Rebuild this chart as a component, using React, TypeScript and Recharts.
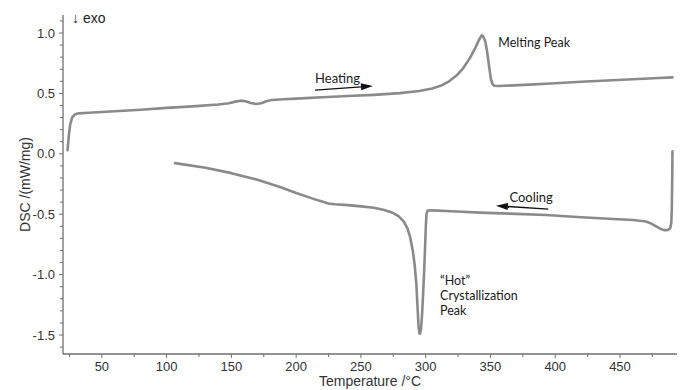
import React from 'react';
import { LineChart, Line, XAxis, YAxis, ReferenceLine, ReferenceDot, Label } from 'recharts';

// Heating run (temperature rising)
const heatingTemp = [
  23.5, 24.5, 25.5, 27, 29, 32, 40, 60, 80, 100, 120, 140, 148, 153, 157, 161, 165, 169, 173, 177, 181,
  190, 200, 220, 240, 260, 280, 295, 305, 312, 318, 324, 329, 334, 338, 341, 343.2, 344.5, 346, 347.5,
  349, 350.3, 351.5, 353, 356, 380, 400, 420, 440, 460, 480, 490.5,
];
const heatingDsc = [
  0.03, 0.15, 0.24, 0.3, 0.325, 0.335, 0.34, 0.352, 0.365, 0.38, 0.393, 0.408, 0.418, 0.432, 0.44, 0.435,
  0.42, 0.413, 0.418, 0.435, 0.445, 0.452, 0.457, 0.468, 0.478, 0.488, 0.502, 0.52, 0.54, 0.565, 0.6, 0.65,
  0.71, 0.79, 0.87, 0.94, 0.98, 0.97, 0.93, 0.84, 0.72, 0.62, 0.578, 0.563, 0.561, 0.573, 0.584, 0.596,
  0.607, 0.617, 0.627, 0.633,
];

// Cooling run (temperature falling, drawn in measurement order)
const coolingTemp = [
  490.5, 490.3, 490, 489.6, 488.8, 487, 484.5, 482, 478, 474, 470, 460, 445, 420, 393, 370, 342, 320, 305,
  301.5, 300.6, 300.1, 299.5, 298.8, 298, 297.2, 296.4, 295.6, 295.1, 294.5, 293.7, 292.8, 291.5, 290,
  288, 286, 283, 279, 275, 268, 260, 250, 240, 230, 225, 220, 214, 200, 187.6, 170, 150, 130, 106.5,
];
const coolingDsc = [
  0.02, -0.2, -0.45, -0.57, -0.615, -0.63, -0.632, -0.625, -0.6, -0.577, -0.56, -0.548, -0.54, -0.525,
  -0.507, -0.497, -0.487, -0.476, -0.468, -0.469, -0.5, -0.6, -0.78, -0.97, -1.16, -1.33, -1.45, -1.49,
  -1.485, -1.43, -1.27, -1.08, -0.92, -0.8, -0.69, -0.62, -0.56, -0.515, -0.49, -0.465, -0.447, -0.435,
  -0.425, -0.418, -0.412, -0.395, -0.375, -0.325, -0.275, -0.215, -0.16, -0.115, -0.077,
];

// Axis ticks
const xMajorTicks = [50, 100, 150, 200, 250, 300, 350, 400, 450];
const xAllTicks = [25, 50, 75, 100, 125, 150, 175, 200, 225, 250, 275, 300, 325, 350, 375, 400, 425, 450, 475];
const yMajorTicks = [-1.5, -1.0, -0.5, 0.0, 0.5, 1.0];
const yAllTicks = [
  -1.6, -1.5, -1.4, -1.3, -1.2, -1.1, -1.0, -0.9, -0.8, -0.7, -0.6, -0.5, -0.4, -0.3, -0.2, -0.1, 0.0,
  0.1, 0.2, 0.3, 0.4, 0.5, 0.6, 0.7, 0.8, 0.9, 1.0, 1.1,
];

const heatingRows = heatingTemp.map((t, i) => ({ t, dsc: heatingDsc[i] }));
const coolingRows = coolingTemp.map((t, i) => ({ t, dsc: coolingDsc[i] }));

const AXIS_COLOR = '#6f6f6f';
const TICK_TEXT = '#333333';
const CURVE_COLOR = '#8a8a8a';
const SANS = '"Liberation Sans", Arial, sans-serif';
const NOTE_FONT = 'Lato, "Open Sans", sans-serif';

const isMajor = (v: number, majors: number[]) => majors.some((m) => Math.abs(m - v) < 1e-6);

const XTick = (props: any) => {
  const { x, y, payload } = props;
  const major = isMajor(payload.value, xMajorTicks);
  return (
    <g>
      <line x1={x} x2={x} y1={y} y2={y + (major ? 4 : 3)} stroke={AXIS_COLOR} strokeWidth={1} />
      {major && (
        <text x={x} y={y + 17} textAnchor="middle" fontSize={13} fill={TICK_TEXT} fontFamily={SANS}>
          {payload.value}
        </text>
      )}
    </g>
  );
};

const YTick = (props: any) => {
  const { x, y, payload } = props;
  const major = isMajor(payload.value, yMajorTicks);
  return (
    <g>
      <line x1={x - (major ? 4 : 3)} x2={x} y1={y} y2={y} stroke={AXIS_COLOR} strokeWidth={1} />
      {major && (
        <text x={x - 8} y={y} dy="0.36em" textAnchor="end" fontSize={13} fill={TICK_TEXT} fontFamily={SANS}>
          {Number(payload.value).toFixed(1)}
        </text>
      )}
    </g>
  );
};

// Arrow drawn along a reference segment, head at the second point
const arrowShape = (props: any) => {
  const { x1, y1, x2, y2 } = props;
  const dx = x2 - x1;
  const dy = y2 - y1;
  const len = Math.sqrt(dx * dx + dy * dy) || 1;
  const ux = dx / len;
  const uy = dy / len;
  const head = 12;
  const half = 3.5;
  const bx = x2 - ux * head;
  const by = y2 - uy * head;
  const pts = `${x2},${y2} ${bx - uy * half},${by + ux * half} ${bx + uy * half},${by - ux * half}`;
  return (
    <g>
      <line x1={x1} y1={y1} x2={bx} y2={by} stroke="#111" strokeWidth={1.3} />
      <polygon points={pts} fill="#111" />
    </g>
  );
};

const noteShape = (lines: string[], size: number) => (props: any) => {
  const { cx, cy } = props;
  return (
    <text x={cx} y={cy} fontSize={size} fill="#1a1a1a" fontFamily={NOTE_FONT}>
      {lines.map((s, i) => (
        <tspan key={i} x={cx} dy={i === 0 ? '0.35em' : 15}>
          {s}
        </tspan>
      ))}
    </text>
  );
};

const exoShape = (props: any) => {
  const { cx, cy } = props;
  return (
    <text x={cx} y={cy} dy="0.35em" fontSize={14} fill="#222" fontFamily={SANS}>
      ↓ exo
    </text>
  );
};

export default function App() {
  return (
    <div style={{ position: 'absolute', left: 0, top: 0, width: 683, height: 390, background: '#fff' }}>
      <LineChart width={683} height={390} margin={{ top: 15, right: 6, bottom: 0, left: 0 }}>
        <XAxis
          type="number"
          dataKey="t"
          domain={[20, 494]}
          allowDataOverflow
          ticks={xAllTicks}
          interval={0}
          tick={<XTick />}
          tickLine={false}
          tickSize={0}
          tickMargin={0}
          height={36}
          axisLine={{ stroke: AXIS_COLOR, strokeWidth: 1.3 }}
        >
          <Label
            content={(p: any) => {
              const vb = p.viewBox;
              return (
                <text
                  x={vb.x + vb.width / 2}
                  y={vb.y + 32}
                  textAnchor="middle"
                  fontSize={14}
                  fill={TICK_TEXT}
                  fontFamily={SANS}
                >
                  Temperature /°C
                </text>
              );
            }}
          />
        </XAxis>
        <YAxis
          type="number"
          dataKey="dsc"
          domain={[-1.657, 1.149]}
          allowDataOverflow
          ticks={yAllTicks}
          interval={0}
          tick={<YTick />}
          tickLine={false}
          tickSize={0}
          tickMargin={0}
          width={63}
          axisLine={{ stroke: AXIS_COLOR, strokeWidth: 1.3 }}
        >
          <Label
            content={(p: any) => {
              const vb = p.viewBox;
              const cx = vb.x + 25;
              const cy = vb.y + vb.height / 2;
              return (
                <text
                  x={cx}
                  y={cy}
                  dy="0.35em"
                  transform={`rotate(-90 ${cx} ${cy})`}
                  textAnchor="middle"
                  fontSize={14}
                  fill={TICK_TEXT}
                  fontFamily={SANS}
                >
                  DSC /(mW/mg)
                </text>
              );
            }}
          />
        </YAxis>
        <Line
          data={heatingRows}
          dataKey="dsc"
          type="linear"
          stroke={CURVE_COLOR}
          strokeWidth={2.6}
          dot={false}
          activeDot={false}
          isAnimationActive={false}
          strokeLinejoin="round"
          strokeLinecap="round"
        />
        <Line
          data={coolingRows}
          dataKey="dsc"
          type="linear"
          stroke={CURVE_COLOR}
          strokeWidth={2.6}
          dot={false}
          activeDot={false}
          isAnimationActive={false}
          strokeLinejoin="round"
          strokeLinecap="round"
        />
        <ReferenceLine
          segment={[
            { x: 214.6, y: 0.528 },
            { x: 259.3, y: 0.561 },
          ]}
          shape={arrowShape}
        />
        <ReferenceLine
          segment={[
            { x: 394.6, y: -0.457 },
            { x: 354.2, y: -0.43 },
          ]}
          shape={arrowShape}
        />
        <ReferenceDot x={27} y={1.12} r={0} shape={exoShape} />
        <ReferenceDot x={214.6} y={0.625} r={0} shape={noteShape(['Heating'], 13)} />
        <ReferenceDot x={356.1} y={0.92} r={0} shape={noteShape(['Melting Peak'], 12.5)} />
        <ReferenceDot x={364.6} y={-0.36} r={0} shape={noteShape(['Cooling'], 13)} />
        <ReferenceDot
          x={311.1}
          y={-1.053}
          r={0}
          shape={noteShape(['\u201cHot\u201d', 'Crystallization', 'Peak'], 12.5)}
        />
      </LineChart>
    </div>
  );
}
